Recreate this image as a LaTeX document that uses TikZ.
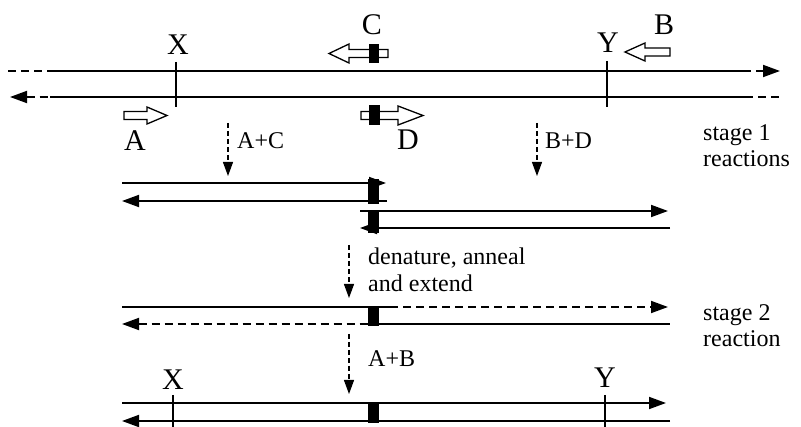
\documentclass[tikz,border=0pt]{standalone}
\usepackage{fontspec}
\setmainfont{Liberation Serif}
\usetikzlibrary{arrows.meta}
\tikzset{
  strand/.style={line width=1.8pt},
  strandarrow/.style={line width=1.8pt,-{Triangle[length=17pt,width=12pt]}},
  dashseg/.style={line width=1.8pt,dash pattern=on 8pt off 5pt},
  tick/.style={line width=1.3pt},
  steparrow/.style={line width=1.1pt,dash pattern=on 5pt off 3pt,-{Triangle[length=14pt,width=10pt]}},
  junction/.style={fill=black},
  openarrow/.style={draw,line width=1.3pt,fill=white},
  biglabel/.style={font=\fontsize{30}{32}\selectfont,inner sep=0pt},
  smalllabel/.style={font=\fontsize{24}{26}\selectfont,inner sep=0pt},
}
\begin{document}
\begin{tikzpicture}[x=1pt,y=-1pt]
\useasboundingbox (0,0) rectangle (801,427);

% ---------- top duplex ----------
\coordinate (t1a) at (8,71);   \coordinate (t1b) at (55,71);
\coordinate (t1c) at (743,71); \coordinate (t1d) at (780,71);
\draw[dashseg] (t1a) -- (t1b);
\draw[strand] (t1b) -- (t1c);
\draw[dashseg,-{Triangle[length=17pt,width=12pt]}] (t1c) -- (t1d);

\coordinate (t2a) at (10,97);  \coordinate (t2b) at (50,97);
\coordinate (t2c) at (745,97); \coordinate (t2d) at (780,97);
\draw[dashseg,{Triangle[length=17pt,width=12pt]}-] (t2a) -- (t2b);
\draw[strand] (t2b) -- (t2c);
\draw[dashseg] (t2c) -- (t2d);

\coordinate (xt1) at (176,62); \coordinate (xt2) at (176,107);
\draw[tick] (xt1) -- (xt2);
\coordinate (yt1) at (607,61); \coordinate (yt2) at (607,107);
\draw[tick] (yt1) -- (yt2);
\node[biglabel] (X1) at (178,45) {X};
\node[biglabel] (Y1) at (608,43) {Y};

% primer C (pointing left, with junction block)
\draw[openarrow] (329,53.5) -- (349,44) -- (349,49.5) -- (388,49.5) -- (388,57.5) -- (349,57.5) -- (349,63) -- cycle;
\fill[junction] (369,44) rectangle (379,63);
\node[biglabel] (C) at (372,25) {C};

% primer D (pointing right, with junction block)
\draw[openarrow] (423,115.5) -- (398,106) -- (398,111.5) -- (361,111.5) -- (361,119.5) -- (398,119.5) -- (398,125) -- cycle;
\fill[junction] (369,105) rectangle (380,125);
\node[biglabel] (D) at (408,140) {D};

% primer A (pointing right)
\draw[openarrow] (167,115.5) -- (147,107) -- (147,111.5) -- (124,111.5) -- (124,119.5) -- (147,119.5) -- (147,124) -- cycle;
\node[biglabel] (A) at (135,141) {A};

% primer B (pointing left)
\draw[openarrow] (625,52) -- (645,43) -- (645,48) -- (670,48) -- (670,56) -- (645,56) -- (645,61) -- cycle;
\node[biglabel] (B) at (664,25) {B};

% stage 1 reaction arrows
\coordinate (ac1) at (228,123); \coordinate (ac2) at (228,176);
\draw[steparrow] (ac1) -- (ac2);
\node[smalllabel,anchor=west] (ACl) at (237,141) {A+C};
\coordinate (bd1) at (537,123); \coordinate (bd2) at (537,176);
\draw[steparrow] (bd1) -- (bd2);
\node[smalllabel,anchor=west] (BDl) at (545,141) {B+D};

\node[smalllabel,anchor=west] (st1a) at (703,135) {stage 1};
\node[smalllabel,anchor=west] (st1b) at (703,159) {reactions};

% ---------- stage 1 products ----------
\coordinate (p1a) at (122,183); \coordinate (p1b) at (386,183);
\draw[strandarrow] (p1a) -- (p1b);
\coordinate (p2a) at (122,201); \coordinate (p2b) at (387,201);
\draw[strandarrow] (p2b) -- (p2a);
\fill[junction] (368,179) rectangle (379,204);

\coordinate (p3a) at (360,211); \coordinate (p3b) at (668,211);
\draw[strandarrow] (p3a) -- (p3b);
\coordinate (p4a) at (360,228); \coordinate (p4b) at (670,228);
\draw[strandarrow] (p4b) -- (p4a);
\fill[junction] (368,211) rectangle (379,233);

% denature arrow
\coordinate (dn1) at (349,245); \coordinate (dn2) at (349,298);
\draw[steparrow] (dn1) -- (dn2);
\node[smalllabel,anchor=west] (dnl1) at (368,258) {denature, anneal};
\node[smalllabel,anchor=west] (dnl2) at (368,283) {and extend};

% ---------- stage 2 intermediates ----------
\coordinate (q1a) at (122,307); \coordinate (q1b) at (390,307); \coordinate (q1c) at (668,307);
\draw[strand] (q1a) -- (q1b);
\draw[dashseg,-{Triangle[length=17pt,width=12pt]}] (q1b) -- (q1c);
\coordinate (q2a) at (122,324); \coordinate (q2b) at (368,324); \coordinate (q2c) at (379,324); \coordinate (q2d) at (670,324);
\draw[dashseg,{Triangle[length=17pt,width=12pt]}-] (q2a) -- (q2b);
\draw[strand] (q2c) -- (q2d);
\fill[junction] (368,307) rectangle (379,326);

\coordinate (ab1) at (349,334); \coordinate (ab2) at (349,394);
\draw[steparrow] (ab1) -- (ab2);
\node[smalllabel,anchor=west] (ABl) at (368,359) {A+B};

\node[smalllabel,anchor=west] (st2a) at (703,315) {stage 2};
\node[smalllabel,anchor=west] (st2b) at (703,339) {reaction};

% ---------- final product ----------
\coordinate (r1a) at (122,403); \coordinate (r1b) at (666,403);
\draw[strandarrow] (r1a) -- (r1b);
\coordinate (r2a) at (122,421); \coordinate (r2b) at (670,421);
\draw[strandarrow] (r2b) -- (r2a);
\fill[junction] (368,402) rectangle (379,423);
\coordinate (xb1) at (173,395); \coordinate (xb2) at (173,427);
\draw[tick] (xb1) -- (xb2);
\coordinate (yb1) at (605,395); \coordinate (yb2) at (605,427);
\draw[tick] (yb1) -- (yb2);
\node[biglabel] (X2) at (173,380) {X};
\node[biglabel] (Y2) at (605,378) {Y};
\end{tikzpicture}
\end{document}
